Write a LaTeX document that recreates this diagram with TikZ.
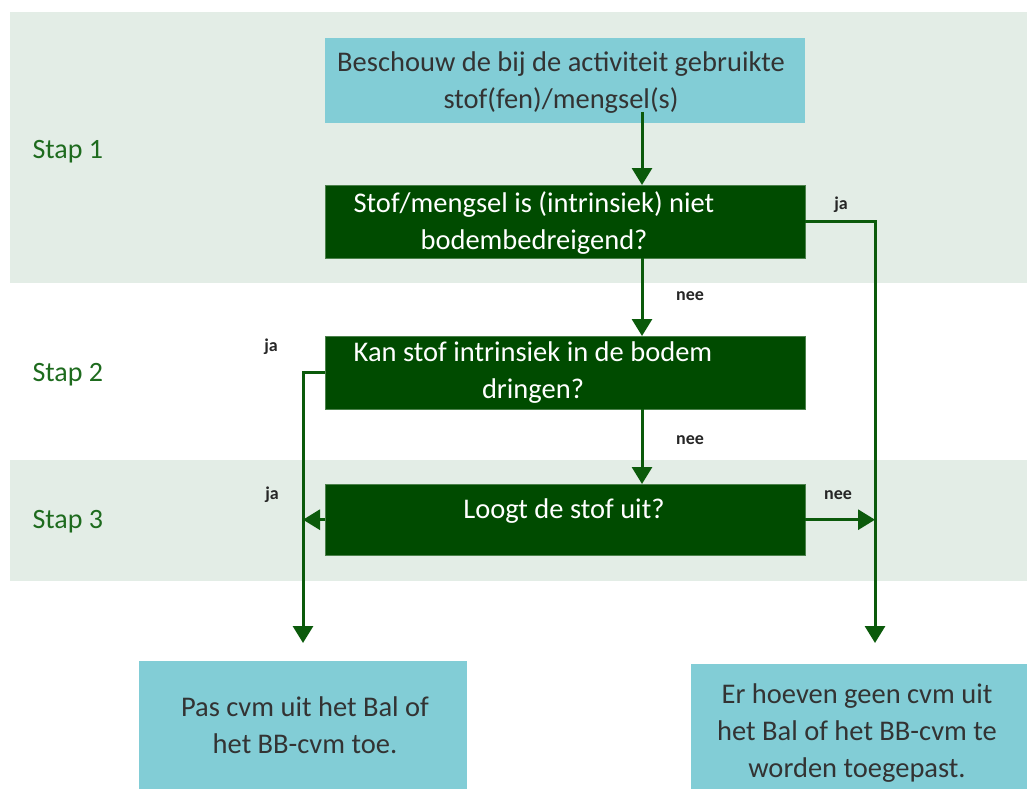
\documentclass[tikz,border=0pt]{standalone}
\usepackage{fontspec}
\setmainfont{Carlito}
\usetikzlibrary{arrows.meta}
\definecolor{band}{HTML}{E3EDE6}
\definecolor{lichtblauw}{HTML}{82CDD6}
\definecolor{donker}{HTML}{004B00}
\definecolor{pijl}{HTML}{0B5A0B}
\definecolor{stapkleur}{HTML}{1E6B1E}
\begin{document}
\begin{tikzpicture}[x=1pt,y=-1pt,
    vraag/.style={fill=donker,draw=donker!70,anchor=north west,minimum width=480pt,minimum height=73pt,inner sep=0pt},
    uitkomst/.style={fill=lichtblauw,anchor=north west,inner sep=0pt},
    tekst/.style={align=center,font=\fontsize{28.5}{37}\selectfont},
    stap/.style={text=stapkleur,anchor=west,font=\fontsize{28}{32}\selectfont},
    keuze/.style={text=black!85,font=\bfseries\fontsize{18}{20}\selectfont},
    verbind/.style={draw=pijl,line width=3pt,-{Triangle[width=20pt,length=17pt]}}]
  \useasboundingbox (0,0) rectangle (1027,789);
  % achtergrond stappen
  \fill[band] (10,12) rectangle (1027,283);
  \fill[band] (10,460) rectangle (1027,581);
  \node[stap] (s1) at (29,152) {Stap 1};
  \node[stap] (s2) at (29,375) {Stap 2};
  \node[stap] (s3) at (29,522) {Stap 3};
  % blokken
  \node[uitkomst,minimum width=480pt,minimum height=85pt] (start) at (325,38) {};
  \node[tekst,text=black!80] at (561,83) {Beschouw de bij de activiteit gebruikte\\stof(fen)/mengsel(s)};
  \node[vraag] (q1) at (325,185) {};
  \node[tekst,text=white] at (534,223) {Stof/mengsel is (intrinsiek) niet\\bodembedreigend?};
  \node[vraag] (q2) at (325,336) {};
  \node[tekst,text=white] at (533,373) {Kan stof intrinsiek in de bodem\\dringen?};
  \node[vraag,minimum height=71pt] (q3) at (325,484) {};
  \node[tekst,text=white] at (564,511) {Loogt de stof uit?};
  \node[uitkomst,minimum width=328pt,minimum height=128pt] (links) at (139,661) {};
  \node[tekst,text=black!80] at (305,725) {Pas cvm uit het Bal of\\het BB-cvm toe.};
  \node[uitkomst,minimum width=336pt,minimum height=125pt] (rechts) at (691,664) {};
  \node[tekst,text=black!80] at (857,733) {Er hoeven geen cvm uit\\het Bal of het BB-cvm te\\worden toegepast.};
  % pijlen
  \coordinate (as) at (642,112);
  \coordinate (eindL) at (303,643);
  \coordinate (eindR) at (875,643);
  \draw[verbind] (as) -- (as |- q1.north);
  \draw[verbind] (as |- q1.south) -- (as |- q2.north);
  \draw[verbind] (as |- q2.south) -- (as |- q3.north);
  \draw[verbind] (q1.east) -| (eindR);
  \draw[verbind] (q2.west) -| (eindL);
  \draw[verbind] (q3.west) -- (q3.west -| eindL);
  \draw[verbind] (q3.east) -- (q3.east -| eindR);
  % labels
  \node[keuze] at (841,205) {ja};
  \node[keuze] at (690,296) {nee};
  \node[keuze] at (271,347) {ja};
  \node[keuze] at (690,440) {nee};
  \node[keuze] at (272,495) {ja};
  \node[keuze] at (838,495) {nee};
\end{tikzpicture}
\end{document}
